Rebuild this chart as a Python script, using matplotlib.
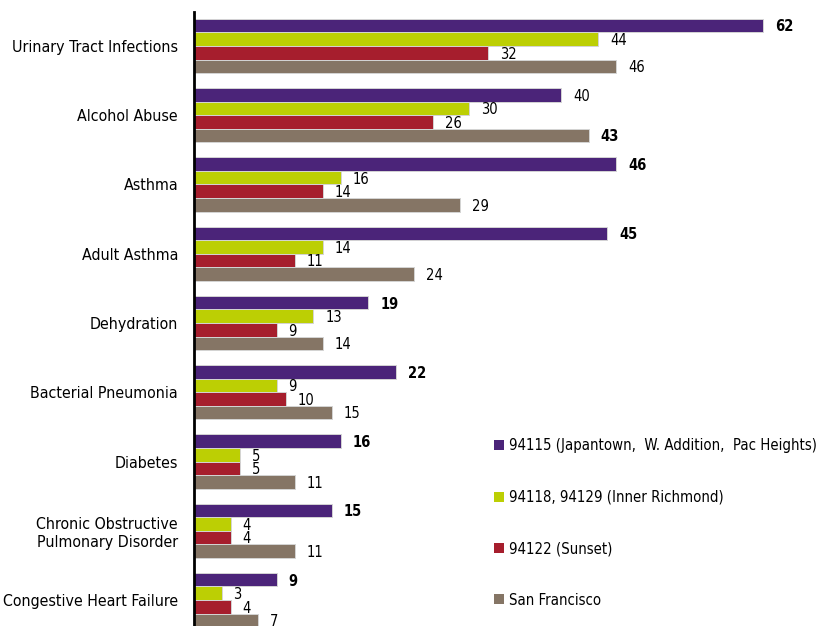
import numpy as np
import matplotlib.pyplot as plt
from matplotlib.patches import Patch

# Data
categories = ["Urinary Tract Infections", "Alcohol Abuse", "Asthma", "Adult Asthma",
              "Dehydration", "Bacterial Pneumonia", "Diabetes",
              "Chronic Obstructive\nPulmonary Disorder", "Congestive Heart Failure"]
series_names = ["94115 (Japantown,  W. Addition,  Pac Heights)",
                "94118, 94129 (Inner Richmond)",
                "94122 (Sunset)",
                "San Francisco"]
v_94115 = [62, 40, 46, 45, 19, 22, 16, 15, 9]
v_94118 = [44, 30, 16, 14, 13, 9, 5, 4, 3]
v_94122 = [32, 26, 14, 11, 9, 10, 5, 4, 4]
v_sf = [46, 43, 29, 24, 14, 15, 11, 11, 7]
colors = ["#4b2479", "#bccf04", "#a61e2d", "#857565"]

plt.rcParams['font.family'] = ['DejaVu Sans']
plt.rcParams['font.stretch'] = 'condensed'

fig = plt.figure(figsize=(8.22, 6.26), dpi=100)
ax = fig.add_axes([194 / 822, 0, 1 - 194 / 822, 1 - 12 / 626])

y = np.arange(len(categories))
bh = 0.196
all_vals = [v_94115, v_94118, v_94122, v_sf]
for k, vals in enumerate(all_vals):
    pos = y - 1.5 * bh + k * bh
    ax.barh(pos, vals, height=bh, color=colors[k], edgecolor="#d4d4d4", linewidth=0.7)
    for i, v in enumerate(vals):
        group_max = max(s[i] for s in all_vals)
        bold = v == group_max
        ax.text(v + 1.3, pos[i] + 0.02, str(v), va="center", ha="left",
                fontsize=10.5, fontweight="bold" if bold else "normal")

ax.set_xlim(0, (822 - 194) / 9.18)
ax.set_ylim(8.375, -0.49)
ax.set_yticks(y)
ax.set_yticklabels(categories, fontsize=11.4, linespacing=1.2)
ax.tick_params(axis="y", length=0, pad=11.5)
ax.set_xticks([])
for s in ["top", "right", "bottom"]:
    ax.spines[s].set_visible(False)
ax.spines["left"].set_linewidth(2)

handles = [Patch(facecolor=c, edgecolor="none") for c in colors]
fig.legend(handles, series_names, loc="upper left", bbox_to_anchor=(487 / 822, 1 - 431 / 626),
           frameon=False, fontsize=10.7, handlelength=0.65, handleheight=0.65,
           handletextpad=0.3, labelspacing=2.45, borderpad=0)

fig.savefig("out.png", dpi=100)
